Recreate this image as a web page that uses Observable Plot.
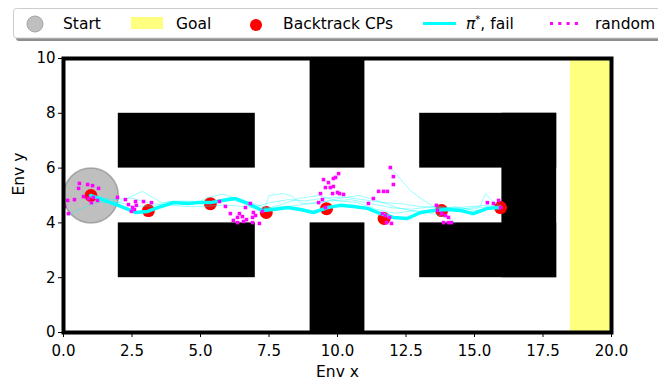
<!DOCTYPE html>
<html>
<head>
<meta charset="utf-8">
<script src="https://cdn.jsdelivr.net/npm/d3@7"></script>
<script src="https://cdn.jsdelivr.net/npm/@observablehq/plot@0.6"></script>
<style>
  body { margin: 0; background: white; }
  #wrap { position: relative; width: 658px; height: 381px; font-family: "DejaVu Sans", sans-serif; }
  #legend { position: absolute; left: 0; top: 0; }
</style>
</head>
<body>
<div id="wrap"></div>
<script>
// ---------- data ----------
const xTicks = [0, 2.5, 5, 7.5, 10, 12.5, 15, 17.5, 20];
const yTicks = [0, 2, 4, 6, 8, 10];

// obstacles: [x1, x2, y1, y2]
const obstacles = [
  [2, 7, 6, 8],
  [2, 7, 2, 4],
  [9, 11, 6, 10],
  [9, 11, 0, 4],
  [13, 18, 6, 8],
  [13, 18, 2, 4],
  [16, 18, 2, 8]
];
const goal = [[18.5, 20, 0, 10]];
const start = {x: 1, y: 5, radius: 1};

const cpX = [1.0, 3.1, 5.36, 7.4, 9.6, 11.7, 13.8, 15.95];
const cpY = [5.0, 4.45, 4.7, 4.38, 4.52, 4.16, 4.45, 4.56];

const mainX = [0.99, 1.72, 2.0, 2.63, 3.07, 3.36, 4.01, 4.53, 4.89, 5.36, 5.8, 6.28, 6.72, 7.26, 7.66, 8.18, 8.65, 9.12, 9.64, 10.1, 10.58, 11.09, 11.57, 12.04, 12.55, 13.03, 13.5, 14.01, 14.49, 14.96, 15.47, 15.95];
const mainY = [5.0, 4.74, 4.64, 4.38, 4.42, 4.53, 4.74, 4.71, 4.74, 4.74, 4.82, 4.89, 4.71, 4.45, 4.49, 4.56, 4.49, 4.38, 4.56, 4.64, 4.6, 4.53, 4.34, 4.2, 4.16, 4.38, 4.45, 4.49, 4.45, 4.34, 4.53, 4.56];

const thinA = [[0.18,4.27],[0.6,4.5],[1.17,4.74],[1.9,4.78],[2.6,4.6],[3.3,4.62],[4.0,4.8],[4.6,4.75],[5.4,4.72],[6.1,4.95],[6.8,4.75],[7.4,4.55],[8.2,4.6],[9.0,4.7],[9.7,4.8],[10.5,4.85],[11.2,4.7],[12.0,4.55],[12.7,4.5],[13.5,4.6],[14.2,4.55],[14.9,4.6],[15.5,4.65],[16.0,4.6]];
const thinB = [[1.0,5.0],[1.9,4.71],[2.88,5.15],[3.58,4.74],[4.3,4.8],[5.0,4.78],[5.2,4.9],[5.8,5.05],[6.0,5.0],[6.3,4.8],[7.0,4.6],[7.6,4.75],[8.2,4.85],[8.8,4.8],[9.5,4.9],[10.2,4.95],[10.9,4.85],[11.6,4.75],[12.3,4.7],[13.0,4.6],[13.7,4.55],[14.5,4.5],[15.2,4.6],[15.4,5.07],[15.7,4.75],[16.0,4.6]];
const thinC = [[1.0,5.0],[1.8,4.85],[2.5,4.9],[3.2,4.7],[3.9,4.65],[4.5,4.6],[5.1,4.6],[5.9,4.65],[6.6,4.6],[7.3,4.5],[7.9,4.65],[8.6,4.9],[9.3,5.0],[10.0,4.8],[10.7,4.75],[11.4,4.5],[12.1,4.35],[12.8,4.45],[13.4,4.35],[14.0,4.2],[14.3,4.0]];
const thinD = [[11.93,6.02],[12.3,5.6],[12.66,5.18],[13.1,4.85],[13.5,4.6],[14.1,4.55],[14.8,4.5],[15.5,4.6],[16.0,4.58]];
const thinE = [[7.3,4.4],[7.5,5.0],[8.0,5.07],[8.3,5.0],[8.7,4.7],[9.4,4.75],[10.1,4.9],[10.8,5.0],[11.5,4.8],[12.2,4.55],[12.9,4.4],[13.6,4.45],[14.3,4.6],[15.0,4.45],[15.6,4.5],[16.0,4.55]];
const thinLines = [thinA, thinB, thinC, thinD, thinE];

const randX = [0.58,0.88,1.06,1.28,0.55,0.73,0.40,0.15,0.04,0.18,0.91,1.09,1.24,1.02,1.97,2.26,2.63,2.92,3.21,2.37,2.52,2.66,2.48,2.59,
  5.69,5.91,6.09,6.20,6.35,6.42,6.53,6.57,6.35,6.64,6.82,6.93,6.90,7.01,6.90,7.15,7.26,6.68,
  9.49,9.67,9.85,9.93,10.04,9.56,9.74,9.85,9.82,10.0,10.07,10.22,9.38,9.45,9.31,9.56,
  11.93,12.04,12.04,11.82,11.68,11.50,11.31,11.13,11.64,11.75,11.9,11.79,11.97,
  13.61,13.65,13.80,13.94,14.05,13.87,14.05,14.16,15.47,15.69,15.88,15.95];
const randY = [5.44,5.40,5.36,5.26,5.26,4.96,4.85,4.82,4.60,4.34,4.89,4.93,4.82,4.74,4.93,4.85,4.78,4.78,4.74,4.67,4.56,4.64,4.42,4.49,
  4.78,4.60,4.34,4.09,4.20,4.34,4.23,4.05,4.01,4.56,4.71,4.38,4.20,4.27,4.01,3.98,4.42,4.12,
  5.58,5.47,5.62,5.66,5.80,5.29,5.29,5.33,5.07,5.11,5.07,5.04,5.07,4.85,4.74,4.56,
  6.02,5.69,5.40,5.15,5.15,5.15,4.89,4.71,4.34,4.27,4.20,4.01,3.98,
  4.64,4.45,4.34,4.27,4.20,4.01,4.01,4.01,4.74,4.71,4.82,4.56];

// ---------- build ----------
const W = 658, H = 381;
const mL = 63, mR = 47, mT = 58, mB = 49;
const xDomain = [0, 20], yDomain = [0, 10];
const pxPerUnit = (W - mL - mR) / (xDomain[1] - xDomain[0]);

const rects = obstacles.map(([x1, x2, y1, y2]) => ({x1, x2, y1, y2}));
const goalRects = goal.map(([x1, x2, y1, y2]) => ({x1, x2, y1, y2}));
const cps = cpX.map((x, i) => ({x, y: cpY[i]}));
const main = mainX.map((x, i) => ({x, y: mainY[i]}));
const thin = thinLines.flatMap((l, k) => l.map(([x, y]) => ({x, y, k})));
const rand = randX.map((x, i) => ({x, y: randY[i]}));

const chart = Plot.plot({
  width: W, height: H,
  marginLeft: mL, marginRight: mR, marginTop: mT, marginBottom: mB,
  x: {domain: xDomain},
  y: {domain: yDomain},
  style: {fontFamily: "DejaVu Sans, sans-serif", fontSize: "15px", color: "black", background: "white"},
  marks: [
    Plot.rect(goalRects, {x1: "x1", x2: "x2", y1: "y1", y2: "y2", fill: "#ffff7f"}),
    Plot.rect(rects, {x1: "x1", x2: "x2", y1: "y1", y2: "y2", fill: "black"}),
    Plot.dot([start], {x: "x", y: "y", r: start.radius * pxPerUnit, fill: "#808080", fillOpacity: 0.5, stroke: "#808080", strokeOpacity: 0.6, strokeWidth: 1.5}),
    Plot.dot(cps, {x: "x", y: "y", r: 6.5, fill: "red"}),
    Plot.line(thin, {x: "x", y: "y", z: "k", stroke: "#00ffff", strokeOpacity: 0.4, strokeWidth: 1, curve: "linear"}),
    Plot.line(main, {x: "x", y: "y", stroke: "#00ffff", strokeWidth: 3.5, strokeLinejoin: "round"}),
    Plot.dot(rand, {x: "x", y: "y", r: 2, fill: "#ff00ff", symbol: "square"}),
    Plot.frame({stroke: "black", strokeWidth: 4}),
    Plot.axisX({ticks: xTicks, tickFormat: d => d.toFixed(1), tickSize: 5, tickPadding: 8, fontSize: 15, label: null, strokeWidth: 1}),
    Plot.axisY({ticks: yTicks, tickFormat: d => String(d), tickSize: 5, tickPadding: 3, fontSize: 15, label: null, strokeWidth: 1}),
    Plot.text(["Env x"], {frameAnchor: "bottom", dy: 44, fontSize: 15.5, fill: "black"}),
    Plot.text(["Env y"], {frameAnchor: "left", dx: -44, rotate: -90, fontSize: 15.5, fill: "black"})
  ]
});
document.getElementById("wrap").appendChild(chart);

// ---------- legend ----------
const legendItems = ["Start", "Goal", "Backtrack CPs", "π*, fail", "random"];
const lg = d3.select("#wrap").append("svg").attr("id", "legend").attr("width", W).attr("height", 46)
  .style("font-family", "DejaVu Sans, sans-serif").style("font-size", "15.5px");
lg.append("rect").attr("x", 16).attr("y", 11.5).attr("width", 660).attr("height", 29.5).attr("rx", 3).attr("fill", "#8e8e8e");
lg.append("rect").attr("x", 13.5).attr("y", 8.5).attr("width", 660).attr("height", 29.5).attr("rx", 3).attr("fill", "white").attr("stroke", "#cccccc");
lg.append("circle").attr("cx", 35).attr("cy", 24).attr("r", 8).attr("fill", "#bfbfbf").attr("stroke", "#a6a6a6").attr("stroke-width", 1);
lg.append("rect").attr("x", 131).attr("y", 17).attr("width", 32).attr("height", 12).attr("fill", "#ffff7f");
lg.append("circle").attr("cx", 256).attr("cy", 25).attr("r", 6).attr("fill", "red");
lg.append("line").attr("x1", 423).attr("x2", 456).attr("y1", 23.5).attr("y2", 23.5).attr("stroke", "#00ffff").attr("stroke-width", 3);
lg.append("line").attr("x1", 550).attr("x2", 580).attr("y1", 23.5).attr("y2", 23.5).attr("stroke", "#ff00ff").attr("stroke-width", 3).attr("stroke-dasharray", "3,5.3");
const textX = [63, 176, 283, 466, 595];
legendItems.forEach((t, i) => {
  const tx = lg.append("text").attr("x", textX[i]).attr("y", 29).attr("fill", "black");
  if (t.startsWith("π")) {
    tx.append("tspan").attr("font-style", "italic").text("π");
    tx.append("tspan").attr("dy", -6).attr("font-size", "10px").text("*");
    tx.append("tspan").attr("dy", 6).text(", fail");
  } else {
    tx.text(t);
  }
});
</script>
</body>
</html>
